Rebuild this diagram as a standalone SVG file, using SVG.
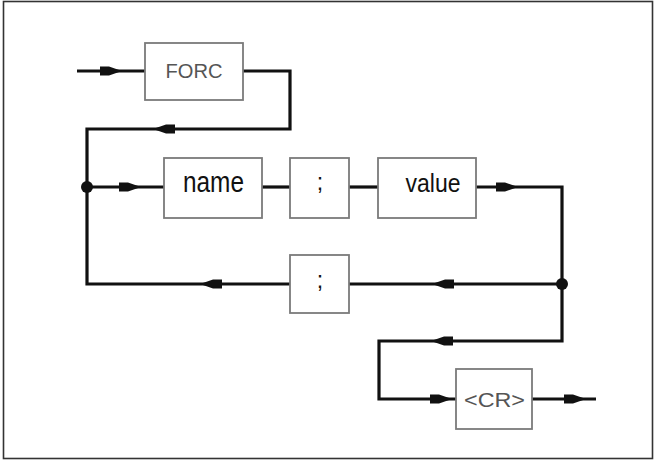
<svg xmlns="http://www.w3.org/2000/svg" width="656" height="461" viewBox="0 0 656 461">
<style>
.frame{fill:#fff;stroke:#333;stroke-width:1.6}
.box{fill:#fff;stroke:#7a7a7a;stroke-width:1.8}
.ln{fill:none;stroke:#111;stroke-width:3.2;stroke-linejoin:miter}
.ar{fill:#111}
.dot{fill:#111}
.t{font-family:"Liberation Sans",Arial,sans-serif;text-anchor:middle}
.big{fill:#111}
.grey{fill:#555}
</style>
<defs>
<polygon id="ar-r" class="ar" points="-11,-4.5 -2,-4.5 11,0 -2,4.5 -11,4.5"/>
<polygon id="ar-l" class="ar" points="11,-4.5 2,-4.5 -11,0 2,4.5 11,4.5"/>
</defs>
<rect class="frame" x="3.5" y="1.5" width="649" height="457"/>
<g id="connectors">
<path class="ln" d="M77,71 H145"/>
<path class="ln" d="M243,71 H290 V129 H87 V284 H291"/>
<path class="ln" d="M87,187 H164"/>
<path class="ln" d="M262,187 H291"/>
<path class="ln" d="M349,187 H378"/>
<path class="ln" d="M476,187 H562 V341 H379 V399 H456"/>
<path class="ln" d="M349,284 H562"/>
<path class="ln" d="M532,399 H596"/>
<use href="#ar-r" x="111" y="71"/>
<use href="#ar-l" x="164" y="129"/>
<use href="#ar-r" x="130" y="187"/>
<use href="#ar-r" x="507" y="187"/>
<use href="#ar-l" x="211" y="284"/>
<use href="#ar-l" x="443" y="284"/>
<use href="#ar-l" x="442" y="341"/>
<use href="#ar-r" x="441" y="399"/>
<use href="#ar-r" x="575" y="399"/>
<circle class="dot" cx="87" cy="187" r="6"/>
<circle class="dot" cx="562" cy="284" r="6"/>
</g>
<g id="forc">
<rect class="box" x="145" y="43" width="98" height="57"/>
<text class="t grey" x="194" y="78" font-size="20.5" textLength="57" lengthAdjust="spacingAndGlyphs">FORC</text>
</g>
<g id="name">
<rect class="box" x="164" y="158" width="98" height="60"/>
<text class="t big" x="213.5" y="192" font-size="30" textLength="61" lengthAdjust="spacingAndGlyphs">name</text>
</g>
<g id="semi1">
<rect class="box" x="290" y="158" width="59" height="60"/>
<text class="t big" x="320" y="190" font-size="23">;</text>
</g>
<g id="value">
<rect class="box" x="378" y="158" width="98" height="60"/>
<text class="t big" x="433" y="192" font-size="25" textLength="55" lengthAdjust="spacingAndGlyphs">value</text>
</g>
<g id="semi2">
<rect class="box" x="290" y="255" width="59" height="58"/>
<text class="t big" x="320" y="288" font-size="23">;</text>
</g>
<g id="cr">
<rect class="box" x="456" y="369" width="76" height="60"/>
<text class="t grey" x="494.5" y="407" font-size="19.5" textLength="61" lengthAdjust="spacingAndGlyphs">&lt;CR&gt;</text>
</g>
</svg>
